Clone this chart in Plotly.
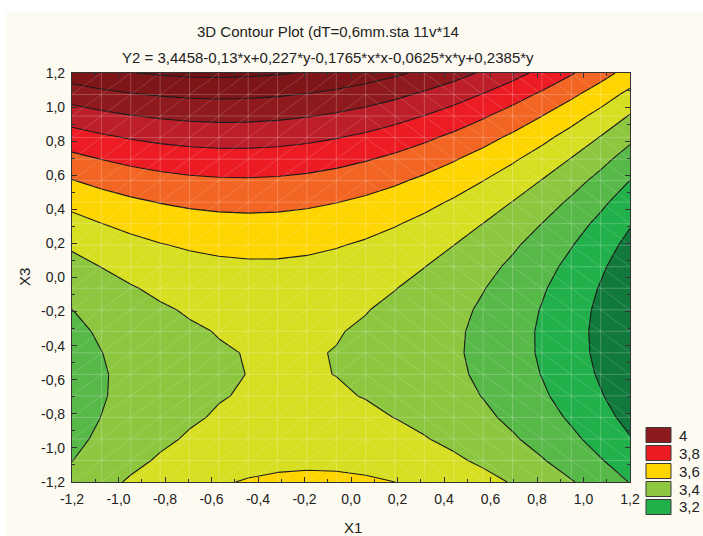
import numpy as np
import plotly.graph_objects as go

# ---- data: fitted surface Y2 (coefficients as printed in the chart subtitle) ----
coef_names = ["const", "x", "y", "x*x", "x*y", "y*y"]
coef_values = [3.4458, -0.13, 0.227, -0.1765, -0.0625, 0.2385]

# evaluation mesh used by the chart (19 x 19 cells over -1.2..1.2)
x1_nodes = np.linspace(-1.2, 1.2, 20)
x3_nodes = np.linspace(-1.2, 1.2, 20)

# contour levels and band colours (lowest band first)
level_start = 3.1
level_end = 4.1
level_step = 0.1
band_colors = ["#11793c", "#22b04b", "#57b948", "#8dc63f", "#d7df23", "#ffd500",
               "#f26522", "#ed1c24", "#bd1f2a", "#8e1a1e", "#7e1518", "#731216"]

# legend (as shown, clipped in original)
legend_labels = ["4", "3,8", "3,6", "3,4", "3,2"]
legend_colors = ["#8e1a1e", "#ed1c24", "#ffd500", "#8dc63f", "#22b04b"]

tick_vals = [-1.2, -1.0, -0.8, -0.6, -0.4, -0.2, 0.0, 0.2, 0.4, 0.6, 0.8, 1.0, 1.2]
tick_text = ["-1,2", "-1,0", "-0,8", "-0,6", "-0,4", "-0,2", "0,0", "0,2", "0,4",
             "0,6", "0,8", "1,0", "1,2"]

title_line1 = "3D Contour Plot (dT=0,6mm.sta 11v*14"
title_line2 = "Y2 = 3,4458-0,13*x+0,227*y-0,1765*x*x-0,0625*x*y+0,2385*y"
x_title = "X1"
y_title = "X3"

# ---- surface on the mesh ----
c0, cx, cy, cxx, cxy, cyy = coef_values
XX, YY = np.meshgrid(x1_nodes, x3_nodes)
Z = c0 + cx * XX + cy * YY + cxx * XX * XX + cxy * XX * YY + cyy * YY * YY

n_bands = len(band_colors)
colorscale = [[i / (n_bands - 1), c] for i, c in enumerate(band_colors)]

FONT = "Liberation Sans, Arial, sans-serif"
TXT = "#222222"

fig = go.Figure()

# filled bands
fig.add_trace(go.Contour(
    x=x1_nodes, y=x3_nodes, z=Z,
    contours=dict(start=level_start, end=level_end, size=level_step,
                  coloring="fill", showlines=False),
    colorscale=colorscale, showscale=False, line=dict(width=0, smoothing=0),
    hoverinfo="skip",
))

# faint mesh (rectangular + triangulation diagonals)
gx, gy = [], []
for xv in x1_nodes[1:-1]:
    gx += [xv, xv, None]
    gy += [x3_nodes[0], x3_nodes[-1], None]
for yv in x3_nodes[1:-1]:
    gx += [x1_nodes[0], x1_nodes[-1], None]
    gy += [yv, yv, None]
fig.add_trace(go.Scatter(x=gx, y=gy, mode="lines", hoverinfo="skip",
                         line=dict(color="rgba(255,255,255,0.22)", width=1),
                         showlegend=False))
dx_, dy_ = [], []
split = len(x1_nodes) // 2
for i in range(len(x1_nodes) - 1):
    for j in range(len(x3_nodes) - 1):
        if i < split:
            dx_ += [x1_nodes[i], x1_nodes[i + 1], None]
            dy_ += [x3_nodes[j], x3_nodes[j + 1], None]
        else:
            dx_ += [x1_nodes[i], x1_nodes[i + 1], None]
            dy_ += [x3_nodes[j + 1], x3_nodes[j], None]
fig.add_trace(go.Scatter(x=dx_, y=dy_, mode="lines", hoverinfo="skip",
                         line=dict(color="rgba(255,255,255,0.2)", width=0.8),
                         showlegend=False))

# contour lines
fig.add_trace(go.Contour(
    x=x1_nodes, y=x3_nodes, z=Z,
    contours=dict(start=level_start, end=level_end, size=level_step,
                  coloring="none", showlines=True),
    line=dict(color="#1a1a1a", width=1.1, smoothing=0),
    showscale=False, hoverinfo="skip",
))

# ---- layout ----
L, R, T, B = 72, 73, 73, 54
W, H = 703, 536
pw, ph = W - L - R, H - T - B


def px_x(px):
    return (px - L) / pw


def px_y(py):
    return (H - B - py) / ph


shapes = [dict(type="rect", xref="paper", yref="paper", layer="below",
               x0=px_x(6), x1=px_x(W + 5), y0=px_y(H + 5), y1=px_y(12),
               fillcolor="#fdfaf2", line=dict(width=0))]
annotations = [
    dict(text=title_line1, xref="paper", yref="paper", x=px_x(195), y=px_y(32),
         xanchor="left", yanchor="middle", showarrow=False,
         font=dict(family=FONT, size=15, color=TXT)),
    dict(text=title_line2, xref="paper", yref="paper", x=px_x(120), y=px_y(57),
         xanchor="left", yanchor="middle", showarrow=False,
         font=dict(family=FONT, size=15, color=TXT)),
    dict(text=x_title, xref="paper", yref="paper", x=px_x(353), y=px_y(527),
         xanchor="center", yanchor="middle", showarrow=False,
         font=dict(family=FONT, size=15, color=TXT)),
    dict(text=y_title, xref="paper", yref="paper", x=px_x(24), y=px_y(277),
         xanchor="center", yanchor="middle", showarrow=False, textangle=-90,
         font=dict(family=FONT, size=15, color=TXT)),
]
for k, (lab, col) in enumerate(zip(legend_labels, legend_colors)):
    cy_px = 435 + 18 * k
    shapes.append(dict(type="rect", xref="paper", yref="paper",
                       x0=px_x(646), x1=px_x(671), y0=px_y(cy_px + 7.5), y1=px_y(cy_px - 7.5),
                       fillcolor=col, line=dict(color="#3a3a3a", width=1)))
    annotations.append(dict(text=lab, xref="paper", yref="paper", x=px_x(677), y=px_y(cy_px),
                            xanchor="left", yanchor="middle", showarrow=False,
                            font=dict(family=FONT, size=15, color=TXT)))

axis_common = dict(
    range=[-1.2, 1.2], tickvals=tick_vals, ticktext=tick_text, automargin=False,
    showgrid=False, zeroline=False, showline=True, linecolor="#333333", linewidth=1.2,
    mirror="ticks", ticks="inside", ticklen=5, tickcolor="#333333",
    tickfont=dict(family=FONT, size=14, color=TXT),
    minor=dict(dtick=0.1, ticks="inside", ticklen=3, tickcolor="#333333", showgrid=False),
)

fig.update_layout(
    width=W, height=H,
    margin=dict(l=L, r=R, t=T, b=B, pad=0, autoexpand=False),
    paper_bgcolor="white", plot_bgcolor="#fdfaf2",
    showlegend=False,
    shapes=shapes, annotations=annotations,
    xaxis=dict(**axis_common, ticklabelstandoff=4),
    yaxis=dict(**axis_common, ticklabelstandoff=3),
)

fig.write_html("out.html")
